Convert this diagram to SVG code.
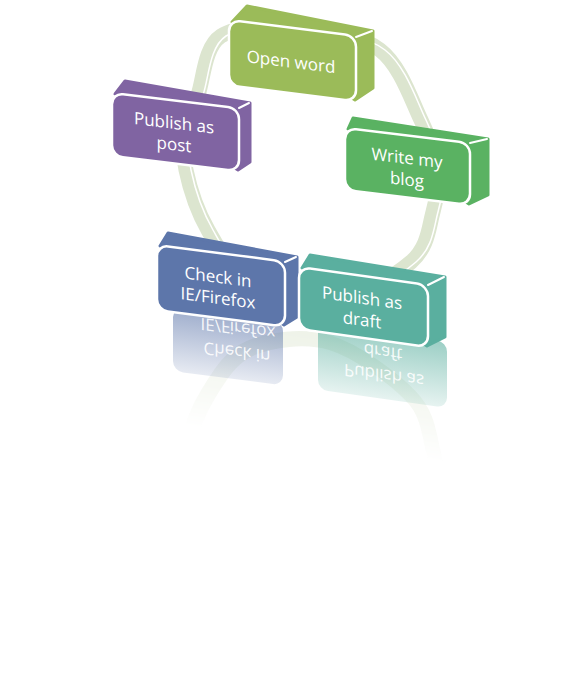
<svg xmlns="http://www.w3.org/2000/svg" width="582" height="687" viewBox="0 0 582 687">
<style>
.lbl{font-family:"Open Sans","Noto Sans","DejaVu Sans",sans-serif;font-size:17px;fill:#fff;text-anchor:middle}
.rl{fill-opacity:.9}
.face{stroke:#fff;stroke-width:2.5}
.ext{stroke-width:3;stroke-linejoin:round}
.edge{stroke:#fff;stroke-width:2;fill:none;stroke-linecap:round}
.ring{fill:none;stroke:#dce5cf;stroke-width:15}
.ringhl{fill:none;stroke:#fff;stroke-width:1.5}
</style>
<defs>
<linearGradient id="gBlue" x1="0" y1="0" x2="0" y2="1"><stop offset="0" stop-color="#5d76aa" stop-opacity=".6"/><stop offset="1" stop-color="#5d76aa" stop-opacity=".15"/></linearGradient>
<linearGradient id="gTeal" x1="0" y1="0" x2="0" y2="1"><stop offset="0" stop-color="#5aaf9f" stop-opacity=".6"/><stop offset="1" stop-color="#5aaf9f" stop-opacity=".15"/></linearGradient>
<linearGradient id="fadeG" gradientUnits="userSpaceOnUse" x1="300" y1="335" x2="285" y2="440"><stop offset="0" stop-color="#fff" stop-opacity=".45"/><stop offset="0.6" stop-color="#fff" stop-opacity=".22"/><stop offset="1" stop-color="#fff" stop-opacity="0"/></linearGradient>
<mask id="fade" maskUnits="userSpaceOnUse" x="0" y="0" width="582" height="687"><rect width="582" height="687" fill="url(#fadeG)"/></mask>
<path id="ringPath" d="M300,28 C326.5,30.3 359.8,34.7 380,50 C400.2,65.3 411.5,100.3 421,120 C430.5,139.7 435,152.7 437,168 C439,183.3 437.3,196.3 433,212 C428.7,227.7 428.2,247 411,262 C393.8,277 356.8,298.5 330,302 C303.2,305.5 270.3,295 250,283 C229.7,271 218.7,248.8 208,230 C197.3,211.2 189.5,186.7 186,170 C182.5,153.3 185,142.5 187,130 C189,117.5 192.3,110.7 198,95 C203.7,79.3 204,47.2 221,36 C238,24.8 273.5,25.7 300,28 Z"/>
</defs>

<g id="reflections">
  <g mask="url(#fade)"><use href="#ringPath" class="ring" transform="matrix(1,0.167,0,-1,0,589.6)"/></g>
  <g id="reflection-check-in" transform="translate(157,245) skewY(7.4)">
    <rect x="16" y="60" width="110" height="64" rx="10" fill="url(#gBlue)"/>
    <text class="lbl rl" transform="translate(81,67) scale(1,-1)">IE/Firefox</text>
    <text class="lbl rl" transform="translate(80,91) scale(1,-1)">Check in</text>
  </g>
  <g id="reflection-publish-draft" transform="translate(299,267) skewY(8)">
    <rect x="19" y="54" width="129" height="66" rx="10" fill="url(#gTeal)"/>
    <text class="lbl rl" transform="translate(84,67.5) scale(1,-1)">draft</text>
    <text class="lbl rl" transform="translate(85,90.5) scale(1,-1)">Publish as</text>
  </g>
</g>

<g id="connectors">
  <use href="#ringPath" class="ring"/>
  <use href="#ringPath" class="ringhl" transform="translate(5,0)"/>
</g>

<g id="node-open-word">
  <path class="ext" fill="#9bbb59" stroke="#9bbb59" d="M232,22 L247,6 L373,31 L373,88 L355,100 Z"/>
  <path class="edge" d="M356,37 L372,31"/>
  <g transform="translate(229,20) skewY(7.1)">
    <rect class="face" width="127" height="65.5" rx="11" fill="#9bbb59"/>
    <text class="lbl" x="62" y="40">Open word</text>
  </g>
</g>

<g id="node-publish-post">
  <path class="ext" fill="#8064a2" stroke="#8064a2" d="M115,94 L125,81 L250,103 L250,162 L238,170 Z"/>
  <path class="edge" d="M239,108 L249,103"/>
  <g transform="translate(112,93) skewY(6.84)">
    <rect class="face" width="127" height="63" rx="11" fill="#8064a2"/>
    <text class="lbl" x="62" y="28.5">Publish as</text>
    <text class="lbl" x="62" y="50">post</text>
  </g>
</g>

<g id="node-write-blog">
  <path class="ext" fill="#5ab262" stroke="#5ab262" d="M348,129 L353,118 L488,139 L488,195 L469,204 Z"/>
  <path class="edge" d="M470,143 L487,139"/>
  <g transform="translate(345,128) skewY(6.84)">
    <rect class="face" width="125" height="62" rx="11" fill="#5ab262"/>
    <text class="lbl" x="62" y="28.5">Write my</text>
    <text class="lbl" x="62" y="50">blog</text>
  </g>
</g>

<g id="node-check-in">
  <path class="ext" fill="#5d76aa" stroke="#5d76aa" d="M160,246 L168,233 L297,257 L297,317 L284,325 Z"/>
  <path class="edge" d="M285,262 L296,257"/>
  <g transform="translate(157,245) skewY(7.4)">
    <rect class="face" width="128" height="65" rx="11" fill="#5d76aa"/>
    <text class="lbl" x="61" y="30">Check in</text>
    <text class="lbl" x="61" y="51">IE/Firefox</text>
  </g>
</g>

<g id="node-publish-draft">
  <path class="ext" fill="#5aaf9f" stroke="#5aaf9f" d="M302,268 L310,255 L445,277 L445,337 L427,346 Z"/>
  <path class="edge" d="M428,285 L444,277"/>
  <g transform="translate(299,267) skewY(8)">
    <rect class="face" width="129" height="62" rx="11" fill="#5aaf9f"/>
    <text class="lbl" x="63" y="28">Publish as</text>
    <text class="lbl" x="63" y="50">draft</text>
  </g>
</g>
</svg>
